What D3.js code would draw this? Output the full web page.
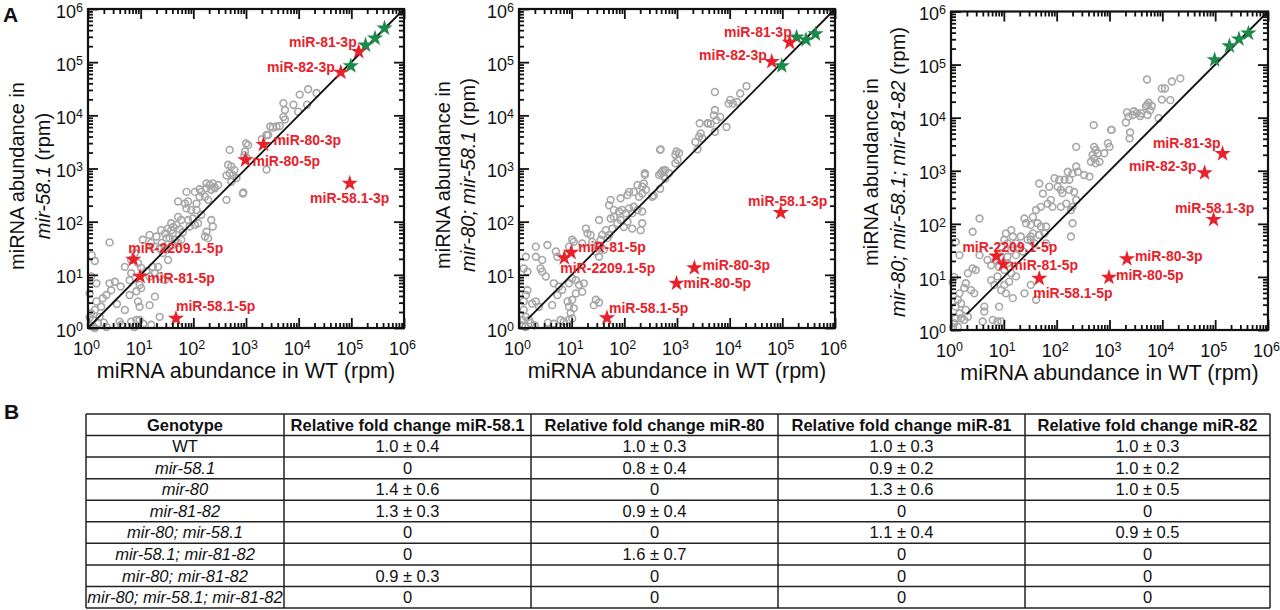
<!DOCTYPE html>
<html>
<head>
<meta charset="utf-8">
<script src="https://cdn.jsdelivr.net/npm/d3@7"></script>
<style>
    body { margin: 0; background: #fff; }
    svg { font-family: "Liberation Sans", Arial, Helvetica, sans-serif; }
</style>
</head>
<body>
<svg id="fig" width="1280" height="610"></svg>
<script>
// ---- data: all abundances are log10(rpm), [WT, mutant] ----
var decades = [0, 1, 2, 3, 4, 5, 6];

var mirNames = ["miR-81-3p", "miR-82-3p", "miR-80-3p", "miR-80-5p", "miR-58.1-3p", "miR-2209.1-5p", "miR-81-5p", "miR-58.1-5p"];
var mirWT = [5.14, 4.80, 3.33, 2.99, 4.97, 0.86, 0.99, 1.67];
var mirMut58 = [5.20, 4.81, 3.45, 3.16, 2.72, 1.29, 0.97, 0.18];
var mirMut80_58 = [5.37, 5.01, 1.13, 0.84, 2.17, 1.32, 1.42, 0.19];
var mirMutTriple = [3.32, 2.96, 1.34, 0.99, 2.08, 1.39, 1.24, 0.97];

var greenWT = [4.99, 5.27, 5.45, 5.63];
var greenMut58 = [4.93, 5.32, 5.45, 5.64];
var greenMut80_58 = [4.93, 5.47, 5.42, 5.53];
var greenMutTriple = [5.09, 5.35, 5.48, 5.59];

var grayMut58 = [
    [4.18,4.49],[4.34,4.42],[4.02,4.39],[3.90,4.20],[4.16,4.20],[3.71,4.23],[3.74,4.10],[3.99,4.07],[3.71,3.97],[3.74,3.92],
    [3.46,3.79],[3.58,3.79],[3.39,3.63],[3.51,3.77],[3.64,3.80],[3.42,3.63],[3.04,3.44],[3.30,3.55],
    [2.69,3.35],[2.97,3.25],[3.01,3.20],[2.98,3.32],[3.00,3.47],[3.39,2.98],[2.66,3.07],[2.72,3.04],[2.78,2.97],[2.69,2.91],
    [2.75,2.88],[2.82,2.82],[2.72,2.75],[2.63,2.87],[2.94,2.53],[2.63,2.41],[2.95,2.55],[2.47,2.69],[2.40,2.65],
    [2.37,2.72],[2.31,2.69],[2.41,2.63],[2.34,2.60],[2.25,2.63],[2.25,2.72],[2.15,2.56],[2.03,2.56],[2.12,2.47],[2.22,2.47],
    [2.28,2.41],[2.12,2.61],[1.87,2.56],[2.06,2.34],[1.90,2.38],[1.84,2.34],[1.71,2.38],[1.87,2.25],[1.96,2.22],[2.06,2.22],
    [2.15,2.13],[1.71,2.09],[1.77,2.03],[1.90,2.03],[1.99,2.06],[2.09,1.97],[1.93,1.91],[2.03,1.94],[2.34,2.03],[2.37,1.91],
    [2.25,1.81],[2.22,1.72],[2.28,1.69],[1.52,1.87],[1.58,1.84],[1.61,1.78],[1.46,1.78],[1.39,1.84],[1.55,1.69],[1.65,1.66],
    [1.49,1.69],[1.30,1.72],[1.17,1.75],[1.04,1.66],[1.20,1.60],[1.27,1.53],[1.36,1.50],[1.46,1.50],[1.42,1.41],[1.33,1.15],
    [1.52,1.28],[1.71,1.60],[1.77,1.66],[1.60,1.56],[1.80,1.80],[1.68,1.94],[1.58,1.97],[1.40,1.60],[1.62,1.90],[1.74,1.86],
    [0.41,1.61],[0.07,1.37],[0.13,1.26],[0.89,1.41],[0.70,1.15],[0.82,1.28],[0.95,1.22],[1.01,1.13],[1.11,1.07],[1.23,1.15],
    [1.27,1.03],[1.36,0.97],[1.46,0.90],[1.17,0.97],[0.82,1.03],[0.79,0.90],[0.98,0.81],[1.01,0.75],[0.92,0.69],[0.79,0.62],
    [0.95,0.50],[0.98,0.40],[1.17,0.43],[1.27,0.59],[0.70,0.34],[0.51,0.87],[0.41,0.84],[0.44,0.71],[0.35,0.62],[0.28,0.56],
    [0.16,0.50],[0.13,0.34],[0.06,0.28],[0.09,0.15],[0.22,0.21],[0.03,0.65],[0.16,0.84],[0.06,0.97],[0.19,0.09],[0.60,0.12],
    [0.82,0.12],[0.92,0.15],[0.98,0.15],[0.63,0.06],[1.20,0.06],[1.36,0.21],[0.05,0.05],[0.10,0.02],[0.03,0.20],[0.25,0.40],
    [0.30,0.10],[1.05,0.08],[0.13,0.00],[0.35,0.02],[0.88,0.02],[0.55,0.45],[0.62,0.78]
];

var grayMut80_58 = [
    [3.72,4.44],[4.20,4.41],[4.32,4.55],[4.01,4.29],[3.98,4.22],[4.06,4.22],[4.14,4.25],[3.72,4.10],[3.70,4.00],[3.59,3.85],
    [3.43,3.85],[3.75,3.91],[3.82,3.97],[3.94,3.78],[3.72,3.69],[2.99,3.32],[2.68,3.35],[2.74,2.97],[2.39,2.88],[2.68,2.62],
    [2.56,2.49],[3.58,3.85],[3.64,3.84],[3.45,3.66],[3.42,3.60],[3.48,3.57],[3.35,3.50],[3.39,3.36],[3.04,3.29],[2.97,3.26],
    [3.01,3.16],[2.97,3.10],[2.69,3.36],[2.78,2.97],[2.72,2.94],[2.69,2.91],[2.66,2.88],[2.75,2.85],[2.78,2.81],[2.85,2.91],
    [2.39,2.91],[2.37,2.72],[2.34,2.66],[2.25,2.69],[2.18,2.56],[2.41,2.60],[2.34,2.53],[2.28,2.47],[2.09,2.56],[2.06,2.50],
    [2.53,2.47],[1.93,2.44],[1.74,2.41],[1.71,2.31],[1.80,2.22],[1.90,2.19],[1.96,2.22],[2.03,2.16],[2.09,2.25],[2.18,2.28],
    [2.25,2.22],[2.34,2.19],[2.15,2.16],[1.80,2.09],[1.52,2.03],[1.74,2.06],[1.87,1.97],[1.93,2.03],[1.99,1.90],[1.77,1.87],
    [1.65,1.84],[1.58,1.75],[1.71,1.75],[1.68,1.69],[1.55,1.66],[1.49,1.56],[1.36,1.75],[1.39,1.62],[1.55,1.53],[1.61,1.47],
    [1.46,1.44],[1.52,1.34],[1.27,1.87],[1.30,1.78],[1.20,1.59],[1.01,1.66],[1.04,1.62],[0.95,1.53],[2.15,1.87],[2.31,1.84],
    [2.34,1.97],[2.06,2.00],
    [0.32,1.53],[0.54,1.56],[0.13,1.34],[0.32,1.34],[0.44,1.28],[0.41,1.12],[0.44,1.06],[0.51,0.97],[0.70,1.44],[0.73,1.34],
    [0.66,0.84],[0.76,0.78],[0.82,0.72],[0.73,0.62],[0.95,0.84],[1.01,0.93],[1.08,0.90],[1.14,0.81],[1.23,0.84],[1.20,0.68],
    [1.08,0.65],[1.01,0.53],[0.92,0.50],[0.95,0.40],[1.04,0.37],[0.98,0.28],[0.63,0.43],[0.38,0.40],[0.32,0.50],[0.25,0.46],
    [0.16,0.71],[0.13,0.62],[0.09,0.50],[0.09,0.34],[0.13,0.21],[0.06,0.15],[0.19,0.15],[0.22,0.09],[0.79,0.15],[0.85,0.12],
    [0.95,0.16],[1.01,0.18],[1.46,0.53],[1.52,0.48],[1.42,0.43],[0.09,1.12],[0.16,1.06],[0.06,0.05],[0.12,0.02],[0.30,0.05],
    [0.55,0.10],[0.66,0.08]
];

var grayMutTriple = [
    [3.71,4.72],[4.18,4.68],[4.34,4.74],[3.99,4.55],[4.05,4.55],[3.99,4.34],[4.15,4.33],[3.71,4.24],[3.74,4.28],[3.80,4.22],
    [3.46,4.12],[3.52,4.09],[3.58,4.03],[3.33,4.10],[3.36,4.02],[3.93,3.99],[3.39,3.72],[3.04,3.77],[2.70,3.86],
    [3.31,3.91],[3.44,4.05],[3.60,4.08],[3.69,4.21],[3.72,4.05],[3.77,4.14],[3.03,3.77],[3.38,3.61],[2.97,3.52],[3.00,3.45],
    [2.71,3.45],[2.74,3.39],[2.78,3.33],[2.68,3.30],[2.71,3.23],[2.65,3.17],[2.74,3.14],[2.81,3.17],[2.90,3.33],[2.37,3.45],
    [2.37,3.08],[2.40,2.98],[2.30,2.95],[2.21,2.98],[2.24,2.83],[2.15,2.83],[2.05,2.83],[1.96,2.86],[2.52,2.92],[2.62,2.89],
    [2.02,2.70],[2.08,2.64],[2.11,2.58],[2.24,2.64],[2.33,2.60],[2.37,2.45],[2.30,2.32],[2.27,2.26],[2.18,2.38],[2.08,2.32],
    [1.89,2.45],[1.83,2.38],[1.92,2.32],[1.74,2.57],[1.86,2.70],[1.67,2.76],[1.70,2.32],[1.61,2.26],[1.55,2.13],[1.39,2.10],
    [1.42,2.01],[1.51,1.98],[1.64,2.01],[1.70,1.95],[1.80,1.95],[1.77,1.82],[1.67,1.79],[1.55,1.82],[1.51,1.76],[1.51,1.70],
    [1.58,1.63],[1.45,1.70],[1.32,1.76],[2.30,2.01],[2.27,1.76],[1.80,1.63],[1.14,1.88],[1.17,1.76],[1.04,1.82],[1.01,1.70],
    [1.07,1.63],[0.95,1.57],[1.23,1.63],[1.29,1.54],[1.36,1.48],[1.23,1.41],[1.14,1.50],[1.07,1.38],[0.95,1.38],[0.85,1.32],
    [1.07,1.26],
    [0.54,2.10],[0.41,1.85],[0.09,1.66],[0.16,1.41],[0.54,1.41],[0.69,1.32],[0.76,1.22],[0.91,1.19],[1.01,1.13],[1.14,1.07],
    [1.23,1.01],[1.10,0.91],[1.01,0.85],[0.88,1.01],[0.76,0.94],[0.82,0.85],[0.95,0.75],[1.04,0.69],[1.17,0.60],[1.39,0.69],
    [1.51,0.85],[1.61,0.57],[0.91,0.44],[0.63,0.44],[0.63,0.35],[0.32,1.07],[0.41,1.16],[0.47,1.13],[0.28,0.88],[0.25,0.79],
    [0.38,0.75],[0.44,0.69],[0.16,0.69],[0.13,0.57],[0.19,0.50],[0.09,0.44],[0.16,0.31],[0.09,0.22],[0.19,0.22],[0.25,0.19],
    [0.06,0.13],[0.13,0.06],[0.32,0.25],[0.28,0.38],[0.60,0.16],[0.79,0.19],[0.88,0.16],[0.95,0.16],[0.03,0.90],[0.06,1.00],
    [0.04,0.05]
];

// y = x reference line start (log10), per panel
var lineStart = [0, 0.17, 0.3];

// ---- table B ----
var tableHeaders = ["Genotype", "Relative fold change miR-58.1", "Relative fold change miR-80", "Relative fold change miR-81", "Relative fold change miR-82"];
var genotypes = ["WT", "mir-58.1", "mir-80", "mir-81-82", "mir-80; mir-58.1", "mir-58.1; mir-81-82", "mir-80; mir-81-82", "mir-80; mir-58.1; mir-81-82"];
var fc58Mean = [1.0, 0, 1.4, 1.3, 0, 0, 0.9, 0];
var fc58Sd   = [0.4, null, 0.6, 0.3, null, null, 0.3, null];
var fc80Mean = [1.0, 0.8, 0, 0.9, 0, 1.6, 0, 0];
var fc80Sd   = [0.3, 0.4, null, 0.4, null, 0.7, null, null];
var fc81Mean = [1.0, 0.9, 1.3, 0, 1.1, 0, 0, 0];
var fc81Sd   = [0.3, 0.2, 0.6, null, 0.4, null, null, null];
var fc82Mean = [1.0, 1.0, 1.0, 0, 0.9, 0, 0, 0];
var fc82Sd   = [0.3, 0.2, 0.5, null, 0.5, null, null, null];

// ---- layout ----
var RED = "#e8212a", GREEN = "#1c8a4b", GRAY = "#a6a6a6", INK = "#111";

var panels = [
    {frame: {x0: 88, x1: 404, y0: 9, y1: 328}, gray: grayMut58, red: mirMut58, green: greenMut58,
     title: {x1: 17, x2: 43, cy: 176}, line2: [["mir-58.1", true], [" (rpm)", false]],
     labels: [[-2,-9,"end"],[-6,-5,"end"],[10,-4,"start"],[7,1,"start"],[0,15,"middle"],[-5,-11,"start"],[7,2,"start"],[0,-12,"start"]]},
    {frame: {x0: 519, x1: 835, y0: 9, y1: 328}, gray: grayMut80_58, red: mirMut80_58, green: greenMut80_58,
     title: {x1: 443, x2: 468, cy: 175}, line2: [["mir-80; mir-58.1", true], [" (rpm)", false]],
     labels: [[2,-10,"end"],[-5,-7,"end"],[8,-3,"start"],[7,0,"start"],[7,-12,"middle"],[-4,10,"start"],[7,-5,"start"],[2,-10,"start"]]},
    {frame: {x0: 951, x1: 1268, y0: 11.5, y1: 330}, gray: grayMutTriple, red: mirMutTriple, green: greenMutTriple,
     title: {x1: 871, x2: 898, cy: 172}, line2: [["mir-80; mir-58.1; mir-81-82", true], [" (rpm)", false]],
     labels: [[-2,-11,"end"],[-8,-7,"end"],[8,-3,"start"],[7,-2,"start"],[1,-11,"middle"],[-34,-9,"start"],[7,1,"start"],[-6,15,"start"]]}
];

var svg = d3.select("#fig");

function pow10(v) { return Math.pow(10, v); }

function styleTicks(g) {
    g.select(".domain").remove();
    g.attr("font-size", null).attr("font-family", null);
    g.selectAll(".tick line").attr("stroke", INK).attr("stroke-width", 1.8);
}

function addExponents(g) {
    g.selectAll(".tick text")
        .attr("fill", INK)
        .style("font-size", "18px")
        .each(function (d) {
            d3.select(this).append("tspan")
                .attr("dy", "-0.45em")
                .style("font-size", "12.5px")
                .text(Math.round(Math.log10(d)));
        });
}

panels.forEach(function (p, pi) {
    var f = p.frame;
    var x = d3.scaleLog().domain([1, 1e6]).range([f.x0, f.x1]);
    var y = d3.scaleLog().domain([1, 1e6]).range([f.y1, f.y0]);
    var majors = decades.map(pow10);
    var minors = x.ticks().filter(function (t) { return majors.indexOf(t) < 0; });

    var g = svg.append("g");

    // gray miRNAs
    g.append("g").selectAll("circle")
        .data(p.gray)
        .enter().append("circle")
        .attr("cx", function (d) { return x(pow10(d[0])); })
        .attr("cy", function (d) { return y(pow10(d[1])); })
        .attr("r", 3.4)
        .attr("fill", "none")
        .attr("stroke", GRAY)
        .attr("stroke-width", 1.6);

    // y = x
    g.append("path")
        .datum([lineStart[pi], 6])
        .attr("d", d3.line()
            .x(function (v) { return x(pow10(v)); })
            .y(function (v) { return y(pow10(v)); }))
        .attr("stroke", INK)
        .attr("stroke-width", 1.8)
        .attr("fill", "none");

    var star = d3.symbol().type(d3.symbolStar).size(82);

    g.append("g").selectAll("path")
        .data(greenWT)
        .enter().append("path")
        .attr("d", star)
        .attr("transform", function (d, i) {
            return "translate(" + x(pow10(d)) + "," + y(pow10(p.green[i])) + ")";
        })
        .attr("fill", GREEN);

    g.append("g").selectAll("path")
        .data(mirWT)
        .enter().append("path")
        .attr("d", star)
        .attr("transform", function (d, i) {
            return "translate(" + x(pow10(d)) + "," + y(pow10(p.red[i])) + ")";
        })
        .attr("fill", RED);

    g.append("g").selectAll("text")
        .data(mirNames)
        .enter().append("text")
        .attr("x", function (d, i) { return x(pow10(mirWT[i])) + p.labels[i][0]; })
        .attr("y", function (d, i) { return y(pow10(p.red[i])) + p.labels[i][1]; })
        .attr("dy", "0.35em")
        .attr("text-anchor", function (d, i) { return p.labels[i][2]; })
        .attr("fill", RED)
        .style("font-size", "14px")
        .style("font-weight", "bold")
        .text(function (d) { return d; });

    // frame + ticks on four sides, pointing inward
    g.append("rect")
        .attr("x", f.x0).attr("y", f.y0)
        .attr("width", f.x1 - f.x0).attr("height", f.y1 - f.y0)
        .attr("fill", "none").attr("stroke", INK).attr("stroke-width", 2.2);

    var bottom = g.append("g").attr("transform", "translate(0," + f.y1 + ")")
        .call(d3.axisBottom(x).tickValues(majors).tickSize(-10).tickPadding(14).tickFormat(function () { return "10"; }));
    styleTicks(bottom); addExponents(bottom);
    bottom.selectAll(".tick text").attr("dx", "-2");

    var left = g.append("g").attr("transform", "translate(" + f.x0 + ",0)")
        .call(d3.axisLeft(y).tickValues(majors).tickSize(-10).tickPadding(5).tickFormat(function () { return "10"; }));
    styleTicks(left); addExponents(left);
    left.selectAll(".tick text").attr("dy", "0.45em");

    [
        d3.axisTop(x).tickValues(majors).tickSize(-10),
        d3.axisRight(y).tickValues(majors).tickSize(-10)
    ].forEach(function (ax, k) {
        var t = k === 0 ? "translate(0," + f.y0 + ")" : "translate(" + f.x1 + ",0)";
        var a = g.append("g").attr("transform", t).call(ax.tickFormat(""));
        styleTicks(a);
    });

    [
        [d3.axisBottom(x), "translate(0," + f.y1 + ")"],
        [d3.axisTop(x), "translate(0," + f.y0 + ")"],
        [d3.axisLeft(y), "translate(" + f.x0 + ",0)"],
        [d3.axisRight(y), "translate(" + f.x1 + ",0)"]
    ].forEach(function (s) {
        var a = g.append("g").attr("transform", s[1])
            .call(s[0].tickValues(minors).tickSize(-5).tickFormat(""));
        styleTicks(a);
    });

    // axis titles
    g.append("text")
        .attr("x", (f.x0 + f.x1) / 2)
        .attr("y", f.y1 + 50)
        .attr("text-anchor", "middle")
        .attr("fill", INK)
        .style("font-size", "21.5px")
        .text("miRNA abundance in WT (rpm)");

    g.append("text")
        .attr("transform", "translate(" + p.title.x1 + "," + p.title.cy + ") rotate(-90)")
        .attr("dy", "0.35em")
        .attr("text-anchor", "middle")
        .attr("fill", INK)
        .style("font-size", "20px")
        .text("miRNA abundance in");

    var t2 = g.append("text")
        .attr("transform", "translate(" + p.title.x2 + "," + p.title.cy + ") rotate(-90)")
        .attr("dy", "0.35em")
        .attr("text-anchor", "middle")
        .attr("fill", INK)
        .style("font-size", "20px");
    p.line2.forEach(function (part) {
        t2.append("tspan").style("font-style", part[1] ? "italic" : "normal").text(part[0]);
    });
});

// panel letters
svg.append("text").attr("x", 3).attr("y", 22).style("font-size", "21px").style("font-weight", "bold").attr("fill", INK).text("A");
svg.append("text").attr("x", 4).attr("y", 419).style("font-size", "21px").style("font-weight", "bold").attr("fill", INK).text("B");

// ---- table ----
var colWidths = [198, 247, 247, 247, 245];
var colEdges = [86].concat(Array.from(d3.cumsum(colWidths), function (w) { return 86 + w; }));
var rowScale = d3.scaleBand().domain(d3.range(genotypes.length + 1)).range([414, 608]);

function fmt(m, s) { return s === null ? "0" : m.toFixed(1) + " \u00b1 " + s.toFixed(1); }

var cols = [
    genotypes,
    fc58Mean.map(function (m, i) { return fmt(m, fc58Sd[i]); }),
    fc80Mean.map(function (m, i) { return fmt(m, fc80Sd[i]); }),
    fc81Mean.map(function (m, i) { return fmt(m, fc81Sd[i]); }),
    fc82Mean.map(function (m, i) { return fmt(m, fc82Sd[i]); })
];

var tbl = svg.append("g");

tbl.selectAll("line.h")
    .data(d3.range(genotypes.length + 2))
    .enter().append("line")
    .attr("x1", colEdges[0]).attr("x2", colEdges[colEdges.length - 1])
    .attr("y1", function (r) { return r <= genotypes.length ? rowScale(r) : rowScale.range()[1]; })
    .attr("y2", function (r) { return r <= genotypes.length ? rowScale(r) : rowScale.range()[1]; })
    .attr("stroke", "#222").attr("stroke-width", 1.5);

tbl.selectAll("line.v")
    .data(colEdges)
    .enter().append("line")
    .attr("x1", function (d) { return d; }).attr("x2", function (d) { return d; })
    .attr("y1", rowScale.range()[0]).attr("y2", rowScale.range()[1])
    .attr("stroke", "#222").attr("stroke-width", 1.5);

tableHeaders.forEach(function (h, c) {
    var cx = (colEdges[c] + colEdges[c + 1]) / 2;
    tbl.append("text")
        .attr("x", cx).attr("y", rowScale(0) + rowScale.bandwidth() / 2)
        .attr("dy", "0.36em").attr("text-anchor", "middle")
        .attr("fill", INK)
        .style("font-size", "16.5px").style("font-weight", "bold")
        .text(h);
    tbl.selectAll("text.c" + c)
        .data(cols[c])
        .enter().append("text")
        .attr("x", cx)
        .attr("y", function (d, r) { return rowScale(r + 1) + rowScale.bandwidth() / 2; })
        .attr("dy", "0.36em").attr("text-anchor", "middle")
        .attr("fill", INK)
        .style("font-size", "16.5px")
        .style("font-style", function (d, r) { return c === 0 && r > 0 ? "italic" : "normal"; })
        .text(function (d) { return d; });
});
</script>
</body>
</html>
